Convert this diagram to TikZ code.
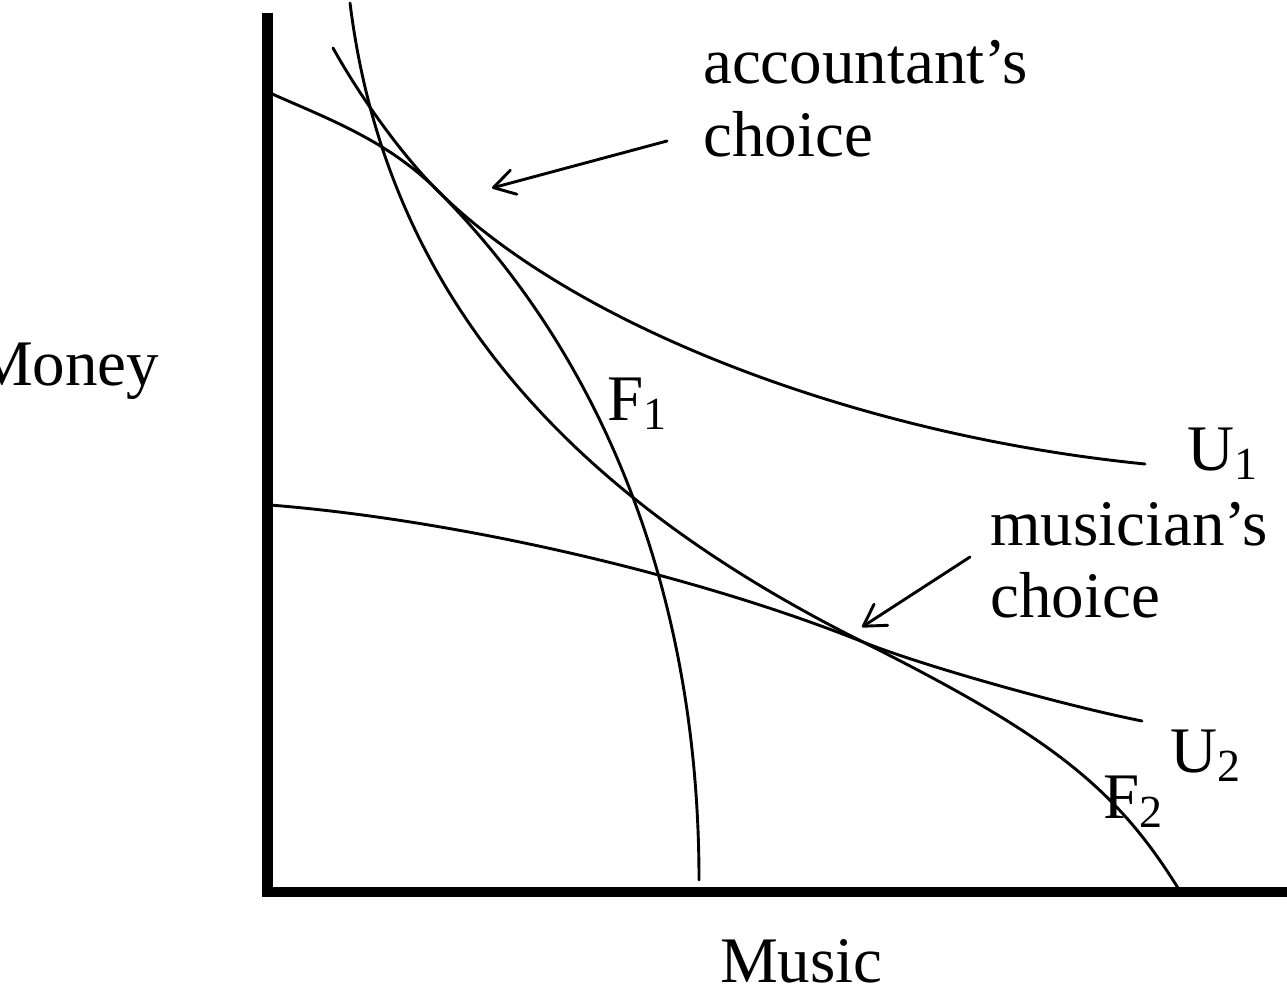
\documentclass[tikz,border=0pt]{standalone}
\usepackage{fontspec}
\setmainfont{Liberation Serif}
\usetikzlibrary{arrows.meta}
\newcommand{\lowsub}[1]{\raisebox{-9pt}{\fontsize{46}{46}\selectfont #1}}
\begin{document}
\begin{tikzpicture}[x=1pt,y=-1pt,
  curve/.style={line width=2.9pt, line join=round, line cap=round},
  axis/.style={line width=10.5pt, line join=miter},
  lbl/.style={inner sep=0pt, anchor=base west, font=\fontsize{65}{73}\selectfont},
  pointer/.style={line width=2.9pt, line cap=round, -{Straight Barb[length=21pt,width=25pt,round]}}]
\useasboundingbox (0,0) rectangle (1287,995);
% axes
\draw[axis] (267.5,13) -- (267.5,892) -- (1287,892);
% U1
\draw[curve] (270,93) .. controls (326,118) and (387,140) .. (437,190)
  .. controls (572.5,325.5) and (855.7,435.1) .. (1145,464);
% U2
\draw[curve] (270,505) .. controls (457.8,520) and (694.6,574.6) .. (863,642)
  .. controls (921,665.2) and (1060.5,704.7) .. (1142,721);
% F1
\draw[curve] (333,48) .. controls (361.5,99.3) and (403.1,156.1) .. (437,190)
  .. controls (607.3,360.3) and (699,601.8) .. (699,880);
% F2
\draw[curve] (350,3) .. controls (388,309.4) and (585.6,503.3) .. (863,642)
  .. controls (1050.9,736) and (1115.9,788.2) .. (1178,888);
% labels
\node[lbl] (acc1) at (703,84) {accountant’s};
\node[lbl] (acc2) at (703,157) {choice};
\node[lbl] (mus1) at (990,545) {musician’s};
\node[lbl] (mus2) at (990,617) {choice};
\node[lbl] (f1) at (607,420) {F\lowsub{1}};
\node[lbl] (f2) at (1103,818) {F\lowsub{2}};
\node[lbl] (u1) at (1187,470) {U\lowsub{1}};
\node[lbl] (u2) at (1170,772) {U\lowsub{2}};
\node[lbl] (money) at (-25,385) {Money};
\node[lbl] (music) at (720,982) {Music};
% pointers
\coordinate (acctail) at (667,141);
\coordinate (acctip) at (492,188);
\coordinate (mustail) at (970,557);
\coordinate (mustip) at (862,627);
\draw[pointer] (acctail) -- (acctip);
\draw[pointer] (mustail) -- (mustip);
\end{tikzpicture}
\end{document}
